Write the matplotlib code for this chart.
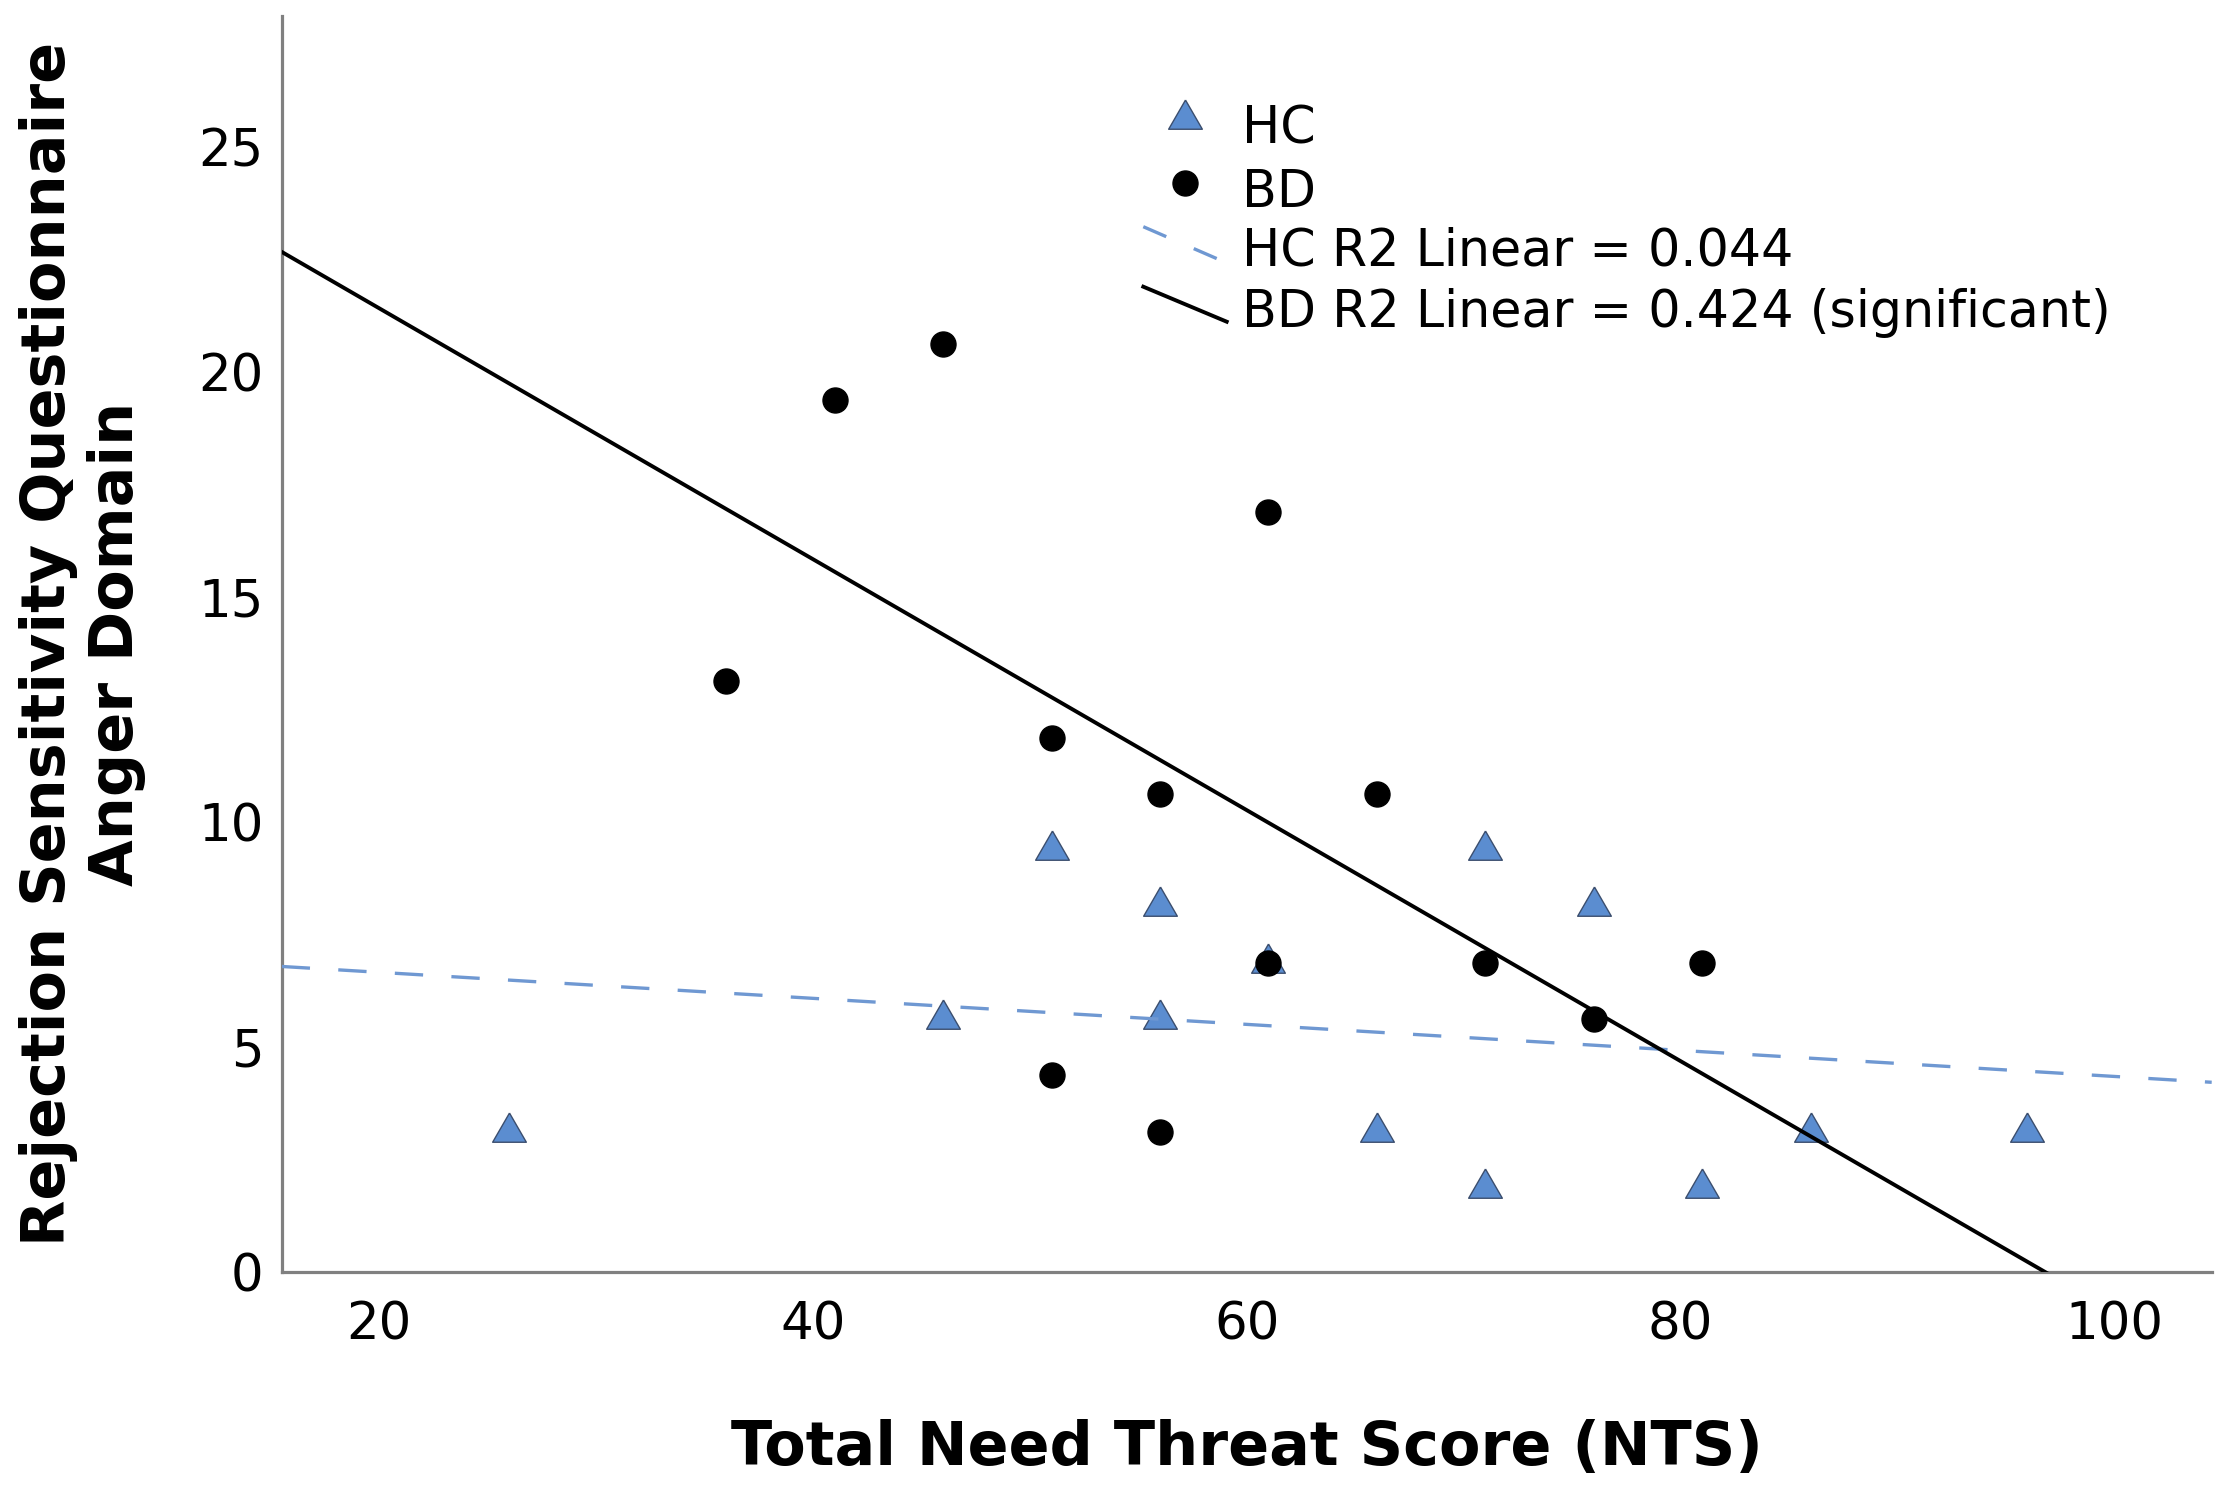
import matplotlib
matplotlib.use("Agg")
import matplotlib.pyplot as plt
from matplotlib.lines import Line2D
import numpy as np

# ── data ──────────────────────────────────────────────────────────────────────
hc_x = [26, 46, 51, 56, 56, 61, 66, 71, 71, 76, 81, 86, 96]
hc_y = [3.125, 5.625, 9.375, 8.125, 5.625, 6.875, 3.125, 9.375, 1.875,
        8.125, 1.875, 3.125, 3.125]

bd_x = [36, 41, 46, 51, 51, 56, 56, 61, 61, 66, 71, 76, 81]
bd_y = [13.125, 19.375, 20.625, 11.875, 4.375, 10.625, 3.125, 16.875,
        6.875, 10.625, 6.875, 5.625, 6.875]

# fit lines (intercept, slope) as drawn in the figure
hc_fit = (7.24, -0.0289)
bd_fit = (26.98, -0.2786)

x_ticks = [20, 40, 60, 80, 100]
y_ticks = [0, 5, 10, 15, 20, 25]

legend_labels = ["HC", "BD", "HC R2 Linear = 0.044",
                 "BD R2 Linear = 0.424 (significant)"]

xlabel = "Total Need Threat Score (NTS)"
ylabel_lines = ["Rejection Sensitivity Questionnaire", "Anger Domain"]

# ── style ─────────────────────────────────────────────────────────────────────
W, H = 2228, 1489
HC_FACE = "#5b8dd0"
HC_EDGE = "#3b4e6e"
HC_LINE = "#6f98d2"
SPINE = "#808080"

# triangle centred on its centroid, like SPSS draws it
TRI = [(0, 0.577), (-0.5, -0.289), (0.5, -0.289), (0, 0.577)]
TRI_SIZE = 28

plt.rcParams.update({
    "font.family": ["DejaVu Sans"],
    "font.size": 36,
})


def fp(px, py):
    """pixel position in the reference -> figure fraction"""
    return px / W, 1 - py / H


fig = plt.figure(figsize=(W / 100, H / 100), dpi=100)
ax = fig.add_axes([281.7 / W, 1 - 1272.3 / H, (2211.7 - 281.7) / W, (1272.3 - 16) / H])

xlim = (15.5, 104.5)
ylim = (0, 27.9)

ax.plot(hc_x, hc_y, linestyle="none", marker=TRI, markersize=TRI_SIZE,
        markerfacecolor=HC_FACE, markeredgecolor=HC_EDGE, markeredgewidth=1.0,
        zorder=3)
ax.plot(bd_x, bd_y, linestyle="none", marker="o", markersize=18,
        color="black", zorder=4)

xs = np.array(xlim)
ax.plot(xs, hc_fit[0] + hc_fit[1] * xs, color=HC_LINE, linewidth=2.4,
        linestyle=(0, (8.5, 8.5)), zorder=5)
ax.plot(xs, bd_fit[0] + bd_fit[1] * xs, color="black", linewidth=2.8, zorder=5)

ax.set_xlim(*xlim)
ax.set_ylim(*ylim)
ax.set_xticks(x_ticks)
ax.set_yticks(y_ticks)
ax.tick_params(axis="x", length=0, pad=20, labelsize=37)
ax.tick_params(axis="y", length=0, pad=13, labelsize=37)

for side in ("top", "right"):
    ax.spines[side].set_visible(False)
for side in ("left", "bottom"):
    ax.spines[side].set_color(SPINE)
    ax.spines[side].set_linewidth(2.3)

# axis titles
fig.text(*fp(1247, 1465), xlabel, ha="center", va="baseline",
         fontsize=43.5, fontweight="bold")
for bx, line in zip([65, 133], ylabel_lines):
    fig.text(*fp(bx, 644), line, rotation=90, rotation_mode="anchor",
             ha="center", va="baseline", fontsize=43.5, fontweight="bold")

# legend drawn by hand (SPSS style, diagonal line samples)
tx = 1241.7
baselines = [144, 206.7, 265, 326.7]

fig.add_artist(Line2D([fp(1185, 0)[0]], [fp(0, 119)[1]], marker=TRI,
                      markersize=TRI_SIZE, markerfacecolor=HC_FACE,
                      markeredgecolor=HC_EDGE, markeredgewidth=1.0,
                      linestyle="none", transform=fig.transFigure))
fig.add_artist(Line2D([fp(1185, 0)[0]], [fp(0, 183.3)[1]], marker="o",
                      markersize=18, color="black", linestyle="none",
                      transform=fig.transFigure))
(x0, y0), (x1, y1) = fp(1143.3, 226.7), fp(1220, 260)
fig.add_artist(Line2D([x0, x1], [y0, y1], color=HC_LINE, linewidth=2.4,
                      linestyle=(0, (7.5, 9)), transform=fig.transFigure))
(x0, y0), (x1, y1) = fp(1143.3, 286.7), fp(1226.7, 321.7)
fig.add_artist(Line2D([x0, x1], [y0, y1], color="black", linewidth=2.8,
                      transform=fig.transFigure))

for label, by in zip(legend_labels, baselines):
    fig.text(*fp(tx, by), label, ha="left", va="baseline", fontsize=36.5)

fig.savefig("out.png", dpi=100)
plt.close(fig)
